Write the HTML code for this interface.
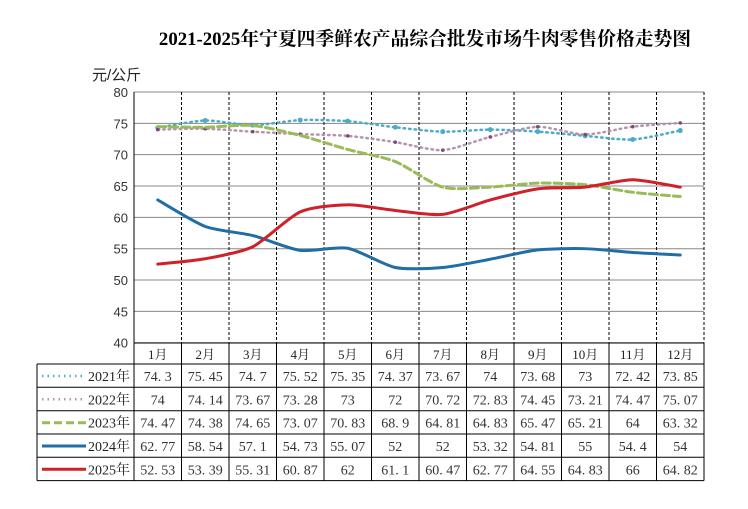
<!DOCTYPE html>
<html><head><meta charset="utf-8"><style>
body{margin:0;background:#fff;}
svg{display:block;font-family:"Liberation Serif","Noto Serif CJK SC","Noto Sans CJK SC",serif;}
</style></head><body>
<svg id="s" width="748" height="509" viewBox="0 0 748 509" xmlns="http://www.w3.org/2000/svg">
<rect width="748" height="509" fill="#fff"/>
<text x="425" y="45" text-anchor="middle" font-size="18.8" font-weight="bold" fill="#000">2021-2025年宁夏四季鲜农产品综合批发市场牛肉零售价格走势图</text>
<text x="92" y="80" font-size="15" fill="#222" font-family="Liberation Sans,Noto Sans CJK SC,sans-serif">元/公斤</text>
<g id="g"></g>
</svg>
<script>
const NS="http://www.w3.org/2000/svg";
const g=document.getElementById('g');
function el(t,a,txt){const e=document.createElementNS(NS,t);for(const k in a)e.setAttribute(k,a[k]);if(txt!=null)e.textContent=txt;g.appendChild(e);return e;}
const L=134,R=704,T=92,B=342.7,cw=(R-L)/12;
const y=v=>B-(v-40)*(B-T)/40;
for(let v=40;v<=80;v+=5){el('line',{x1:L,x2:R,y1:y(v),y2:y(v),stroke:'#888','stroke-width':1});
el('text',{x:128,y:y(v)+5,'text-anchor':'end','font-size':13,fill:'#333','font-family':'Liberation Sans,sans-serif'},v);}
for(let i=1;i<12;i++){const x=L+cw*i;el('line',{x1:x,x2:x,y1:T,y2:B,stroke:'#000','stroke-width':1,'stroke-dasharray':'3,2'});}
el('line',{x1:L,x2:L,y1:T,y2:B,stroke:'#000'});
el('line',{x1:R,x2:R,y1:T,y2:B,stroke:'#000','stroke-dasharray':'3,2'});
const data=[
["2021年",[74.3,75.45,74.7,75.52,75.35,74.37,73.67,74,73.68,73,72.42,73.85],'#4bacc6','1.5,4',2.5],
["2022年",[74,74.14,73.67,73.28,73,72,70.72,72.83,74.45,73.21,74.47,75.07],'#b592b0','1.5,4',2.5],
["2023年",[74.47,74.38,74.65,73.07,70.83,68.9,64.81,64.83,65.47,65.21,64,63.32],'#9bbb59','8,4',3],
["2024年",[62.77,58.54,57.1,54.73,55.07,52,52,53.32,54.81,55,54.4,54],'#1f6ea6',null,3],
["2025年",[52.53,53.39,55.31,60.87,62,61.1,60.47,62.77,64.55,64.83,66,64.82],'#d0202a',null,3]];
const cx=i=>L+cw*(i+0.5);
function path(v){const p=v.map((d,i)=>[cx(i),y(d)]);let s=`M${p[0][0]},${p[0][1]}`;
for(let i=0;i<p.length-1;i++){const p0=p[i-1]||p[i],p1=p[i],p2=p[i+1],p3=p[i+2]||p2;const t=0.12;
s+=` C${p1[0]+(p2[0]-p0[0])*t},${p1[1]+(p2[1]-p0[1])*t} ${p2[0]-(p3[0]-p1[0])*t},${p2[1]-(p3[1]-p1[1])*t} ${p2[0]},${p2[1]}`;}return s;}
data.forEach(d=>{const a={d:path(d[1]),fill:'none',stroke:d[2],'stroke-width':d[4],'stroke-linecap':'round'};if(d[3])a['stroke-dasharray']=d[3];el('path',a);
if(d[0]=="2021年"||d[0]=="2022年")d[1].forEach((v,i)=>el('circle',{cx:cx(i),cy:y(v),r:d[0]=="2021年"?2.5:1.8,fill:d[0]=="2021年"?'#4bacc6':'#7a4a7a'}));});
const rows=[343,364,387.3,410.7,434,457.3,480.6];
const TL=37;
el('line',{x1:L,x2:R,y1:343,y2:343,stroke:'#000'});
for(let r=2;r<rows.length;r++)el('line',{x1:TL,x2:R,y1:rows[r-1],y2:rows[r-1],stroke:'#000'});
el('line',{x1:TL,x2:R,y1:rows[6],y2:rows[6],stroke:'#000'});
el('line',{x1:TL,x2:TL,y1:364,y2:rows[6],stroke:'#000'});
for(let i=0;i<=12;i++){const x=L+cw*i;el('line',{x1:x,x2:x,y1:343,y2:rows[6],stroke:'#000'});}
const tf='Liberation Serif,Noto Serif CJK SC,serif';
for(let i=0;i<12;i++)el('text',{x:cx(i),y:359,'text-anchor':'middle','font-size':13,fill:'#222','font-family':tf},(i+1)+'月');
data.forEach((d,r)=>{const yy=rows[r+1]+17;
el('text',{x:130,y:yy,'text-anchor':'end','font-size':14,fill:'#222','font-family':tf},d[0]);
const a={x1:42,x2:86,y1:yy-5,y2:yy-5,stroke:d[2],'stroke-width':d[4]};if(d[3])a['stroke-dasharray']=d[3];el('line',a);
d[1].forEach((v,i)=>el('text',{x:cx(i),y:yy,'text-anchor':'middle','font-size':14,fill:'#333','font-family':tf},String(v).replace('.','. ')));});
</script>
</body></html>
